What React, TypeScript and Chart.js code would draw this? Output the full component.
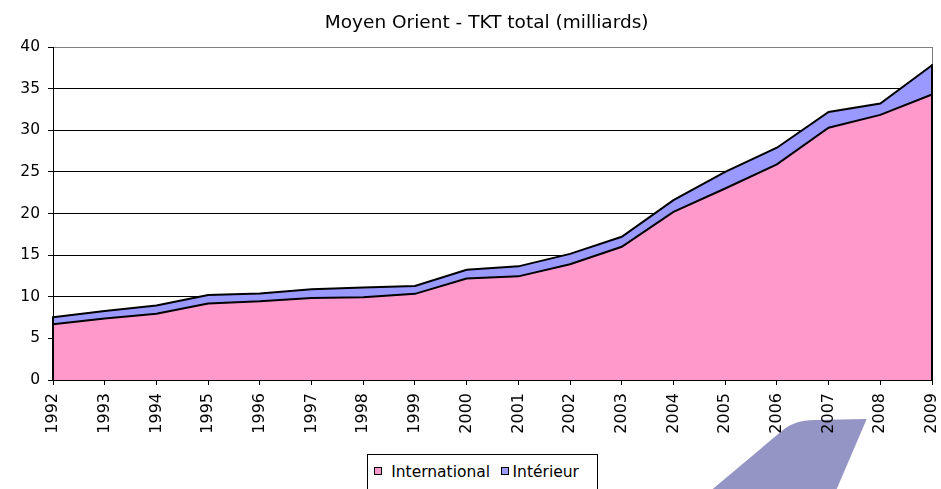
import React, { useEffect, useRef } from "react";
import { Chart, registerables } from "chart.js";

Chart.register(...registerables);

const years = ["1992","1993","1994","1995","1996","1997","1998","1999","2000","2001","2002","2003","2004","2005","2006","2007","2008","2009"];
const international = [6.7, 7.4, 7.95, 9.2, 9.45, 9.85, 9.95, 10.35, 12.2, 12.45, 13.9, 16.0, 20.2, 23.0, 25.9, 30.3, 31.85, 34.3];
const interieur = [0.85, 0.9, 1.0, 1.0, 0.95, 1.05, 1.15, 0.95, 1.05, 1.2, 1.25, 1.2, 1.4, 2.0, 2.0, 1.9, 1.35, 3.5];
const seriesNames = ["International", "Intérieur"];
const seriesColors = ["#FF99CC", "#9999FF"];
const titleText = "Moyen Orient - TKT total (milliards)";
const yMin = 0;
const yMax = 40;
const yStep = 5;

const FONT = "'DejaVu Sans', sans-serif";

const edgePlugin = {
  id: "edges",
  afterDatasetsDraw(chart: any) {
    const { ctx, chartArea } = chart;
    const meta = chart.getDatasetMeta(1);
    const pts = meta.data;
    if (!pts || !pts.length) return;
    const lastY = pts[pts.length - 1].y;
    const firstY = pts[0].y;
    ctx.save();
    ctx.lineCap = "butt";
    ctx.strokeStyle = "#808080";
    ctx.lineWidth = 1;
    ctx.beginPath();
    ctx.moveTo(chartArea.right + 0.5, chartArea.top);
    ctx.lineTo(chartArea.right + 0.5, lastY);
    ctx.stroke();
    ctx.strokeStyle = "#000";
    ctx.lineWidth = 2;
    ctx.beginPath();
    ctx.moveTo(chartArea.right, lastY - 1);
    ctx.lineTo(chartArea.right, chartArea.bottom);
    ctx.stroke();
    ctx.lineWidth = 1;
    ctx.beginPath();
    ctx.moveTo(chartArea.left + 0.5, chartArea.top);
    ctx.lineTo(chartArea.left + 0.5, chartArea.bottom);
    ctx.stroke();
    ctx.lineWidth = 2;
    ctx.beginPath();
    ctx.moveTo(chartArea.left, firstY - 1);
    ctx.lineTo(chartArea.left, chartArea.bottom);
    ctx.stroke();
    ctx.restore();
  },
};

function AreaChart() {
  const ref = useRef<HTMLCanvasElement | null>(null);
  useEffect(() => {
    if (!ref.current) return;
    const chart = new Chart(ref.current, {
      type: "line",
      data: {
        labels: years,
        datasets: [
          {
            label: seriesNames[0],
            data: international,
            backgroundColor: seriesColors[0],
            borderColor: "#000",
            borderWidth: 2,
            fill: "origin",
            pointRadius: 0,
            tension: 0,
          },
          {
            label: seriesNames[1],
            data: interieur,
            backgroundColor: seriesColors[1],
            borderColor: "#000",
            borderWidth: 2,
            fill: "-1",
            pointRadius: 0,
            tension: 0,
          },
        ],
      },
      options: {
        animation: false,
        responsive: true,
        maintainAspectRatio: false,
        layout: { padding: { top: 47, left: 0, right: 9, bottom: 0 } },
        plugins: {
          legend: { display: false },
          title: { display: false },
          tooltip: { enabled: false },
        },
        scales: {
          x: {
            type: "category",
            offset: false,
            z: 1,
            grid: {
              drawOnChartArea: false,
              drawTicks: true,
              tickLength: 5,
              color: "#000",
              tickColor: "#000",
            },
            border: { display: true, color: "#000", width: 1 },
            ticks: {
              autoSkip: false,
              minRotation: 90,
              maxRotation: 90,
              padding: 8,
              color: "#000",
              font: { family: FONT, size: 16 },
            },
            afterFit(scale: any) {
              scale.height = 109;
              scale.paddingLeft = 0;
              scale.paddingRight = 0;
            },
          },
          y: {
            stacked: true,
            min: yMin,
            max: yMax,
            grid: {
              color: (c: any) => (c.tick && c.tick.value === yMax ? "#808080" : "#000"),
              lineWidth: 1,
              drawTicks: true,
              tickLength: 5,
              tickColor: "#000",
            },
            border: { display: true, color: "#000", width: 1 },
            ticks: {
              stepSize: yStep,
              padding: 8,
              color: "#000",
              font: { family: FONT, size: 15.5 },
            },
            afterFit(scale: any) {
              scale.width = 53;
              scale.paddingTop = 0;
              scale.paddingBottom = 0;
            },
          },
        },
      },
      plugins: [edgePlugin],
    });
    return () => chart.destroy();
  }, []);
  return <canvas ref={ref} style={{ display: "block" }} />;
}

export default function App() {
  return (
    <div
      style={{
        position: "fixed",
        left: 0,
        top: 0,
        width: 941,
        height: 489,
        overflow: "hidden",
        background: "#fff",
        fontFamily: FONT,
      }}
    >
      <svg
        width={941}
        height={489}
        style={{ position: "absolute", left: 0, top: 0 }}
      >
        <path
          d="M866.7,419 L815,420 C800,420.5 792,423 783,430 L712.7,489 L836.7,489 Z"
          fill="#9494C5"
        />
      </svg>
      <div style={{ position: "absolute", left: 0, top: 0, width: 941, height: 489 }}>
        <AreaChart />
      </div>
      <div
        style={{
          position: "absolute",
          left: 486.7,
          top: 10.9,
          transform: "translateX(-50%)",
          whiteSpace: "nowrap",
          fontSize: 18.5,
          lineHeight: "22px",
          color: "#000",
        }}
      >
        {titleText}
      </div>
      <div
        style={{
          position: "absolute",
          left: 367,
          top: 454,
          width: 231,
          height: 60,
          border: "1px solid #000",
          boxSizing: "border-box",
          background: "#fff",
        }}
      />
      <div
        style={{
          position: "absolute",
          left: 374,
          top: 466.5,
          width: 8,
          height: 8,
          background: seriesColors[0],
          border: "1px solid #000",
          boxSizing: "border-box",
        }}
      />
      <div
        style={{
          position: "absolute",
          left: 391.2,
          top: 462.9,
          fontSize: 15.5,
          lineHeight: "18px",
          whiteSpace: "nowrap",
          color: "#000",
        }}
      >
        {seriesNames[0]}
      </div>
      <div
        style={{
          position: "absolute",
          left: 501,
          top: 466.5,
          width: 8,
          height: 8,
          background: seriesColors[1],
          border: "1px solid #000",
          boxSizing: "border-box",
        }}
      />
      <div
        style={{
          position: "absolute",
          left: 512.5,
          top: 462.9,
          fontSize: 15.5,
          lineHeight: "18px",
          whiteSpace: "nowrap",
          color: "#000",
        }}
      >
        {seriesNames[1]}
      </div>
    </div>
  );
}
